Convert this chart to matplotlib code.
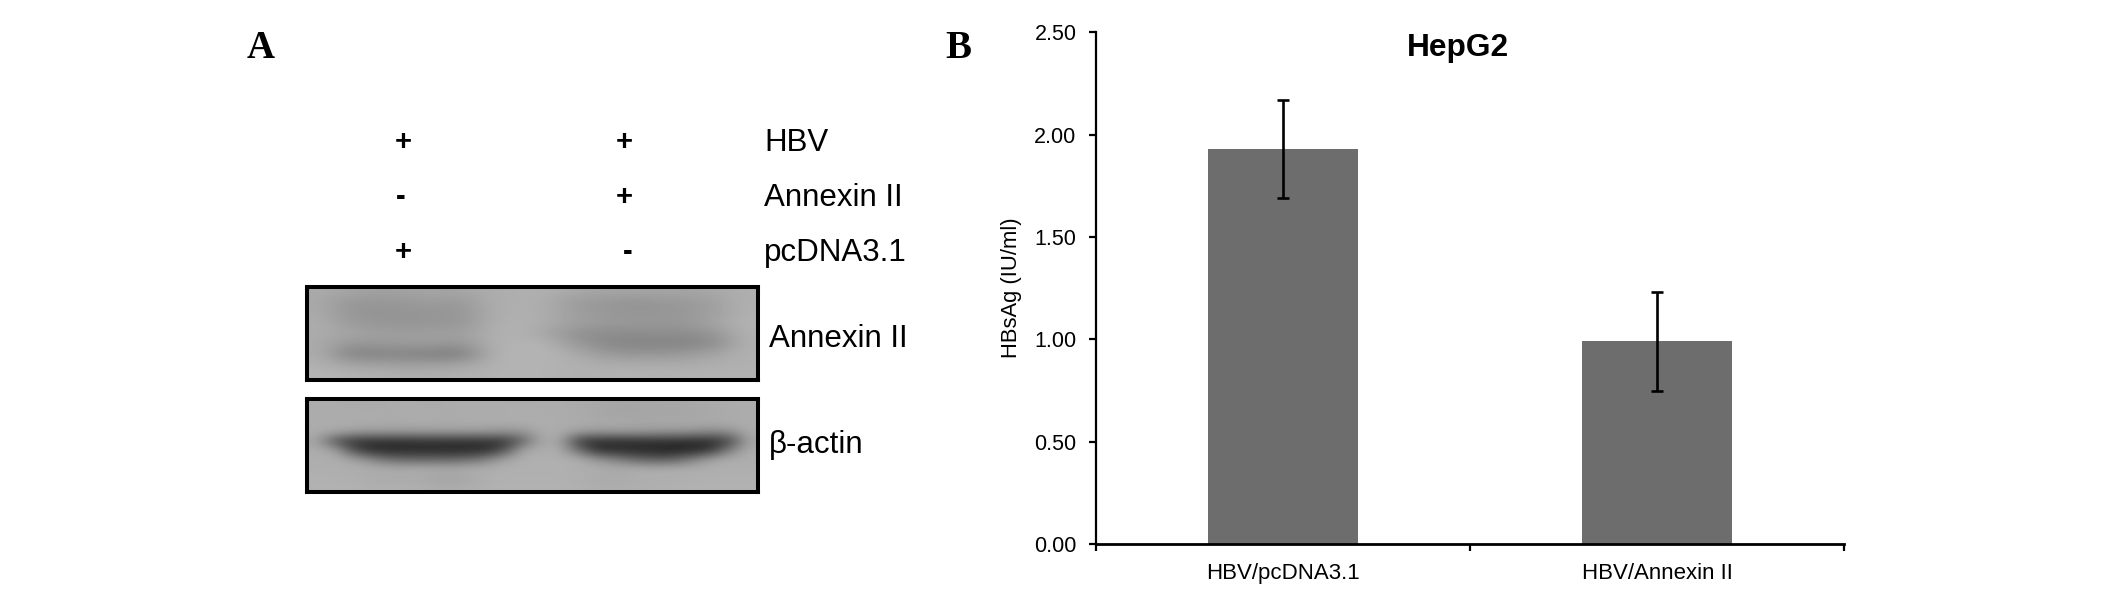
# -*- coding: utf-8 -*-
import numpy as np
import matplotlib
matplotlib.use('Agg')
import matplotlib.pyplot as plt

W = 2126
H = 599

# panel B data
groups = ['HBV/pcDNA3.1', 'HBV/Annexin II']
hbsag = [1.93, 0.99]
hbsag_err = [0.24, 0.24]
y_ticks = [0.0, 0.5, 1.0, 1.5, 2.0, 2.5]

# panel A table
row_names = ['HBV', 'Annexin II', 'pcDNA3.1']
lane1 = ['+', '-', '+']
lane2 = ['+', '+', '-']

# blot densities (grey level, 0-255)
annexin_blot = [
    [170, 165, 160, 162, 165, 165, 172, 175, 175, 168, 165, 165, 165, 165, 168, 175],
    [168, 150, 150, 152, 155, 152, 172, 175, 172, 155, 152, 145, 150, 152, 160, 175],
    [170, 150, 148, 148, 150, 150, 170, 176, 172, 158, 152, 150, 150, 152, 160, 176],
    [172, 155, 150, 148, 150, 150, 172, 178, 172, 160, 155, 152, 152, 152, 165, 178],
    [172, 165, 160, 158, 160, 160, 174, 178, 165, 145, 140, 140, 142, 140, 150, 176],
    [170, 150, 152, 155, 155, 150, 174, 180, 178, 155, 138, 132, 132, 132, 140, 176],
    [172, 130, 130, 132, 125, 125, 172, 182, 180, 172, 155, 150, 150, 155, 165, 176],
    [176, 165, 162, 158, 160, 165, 176, 180, 178, 176, 174, 172, 172, 172, 174, 176],
    [180, 178, 176, 176, 176, 176, 178, 180, 178, 176, 176, 178, 176, 178, 178, 178],
]
actin_blot = [
    [172, 172, 170, 170, 172, 172, 170, 172, 172, 172, 172, 172, 172, 172, 170, 168, 166, 166, 166, 168, 168, 170, 172, 172],
    [172, 172, 172, 172, 170, 172, 172, 170, 172, 172, 172, 174, 172, 172, 170, 166, 164, 164, 166, 164, 166, 168, 170, 172],
    [172, 172, 172, 172, 172, 172, 172, 172, 172, 172, 172, 174, 174, 172, 172, 170, 170, 168, 168, 170, 170, 170, 172, 172],
    [172, 168, 160, 155, 155, 155, 155, 155, 155, 155, 150, 150, 172, 172, 160, 155, 155, 155, 152, 150, 148, 140, 145, 172],
    [165, 85, 55, 50, 50, 50, 52, 52, 52, 52, 55, 100, 170, 165, 60, 48, 48, 50, 50, 48, 45, 45, 70, 165],
    [172, 165, 75, 45, 42, 42, 42, 40, 42, 45, 80, 170, 172, 172, 110, 48, 45, 42, 38, 35, 40, 55, 130, 172],
    [174, 174, 165, 135, 110, 105, 105, 105, 110, 130, 165, 174, 176, 176, 174, 150, 130, 105, 95, 100, 130, 165, 174, 174],
    [174, 174, 174, 174, 172, 172, 174, 170, 174, 174, 176, 176, 176, 176, 174, 174, 172, 174, 174, 174, 174, 174, 174, 174],
    [176, 176, 174, 170, 170, 170, 166, 162, 166, 174, 176, 176, 176, 176, 174, 170, 168, 172, 174, 174, 174, 176, 176, 176],
    [178, 178, 178, 176, 176, 176, 174, 172, 174, 176, 178, 178, 178, 178, 176, 174, 174, 174, 176, 176, 178, 178, 178, 178],
]

plt.rcParams['font.family'] = ['Liberation Sans', 'DejaVu Sans']

fig = plt.figure(figsize=(W / 100, H / 100), dpi=100)


def px_axes(x0, y0, x1, y1):
    # pixel box (y going down) to figure fractions
    return fig.add_axes([x0 / W, 1 - y1 / H, (x1 - x0) / W, (y1 - y0) / H])


def px_text(x, y, s, **kw):
    kw.setdefault('va', 'center')
    fig.text(x / W, 1 - y / H, s, **kw)


# panel letters
px_text(247, 49, 'A', family='Liberation Serif', fontweight='bold', fontsize=28)
px_text(945, 49, 'B', family='Liberation Serif', fontweight='bold', fontsize=28)

# +/- table
row_y = [142, 197, 252]
for i in range(3):
    px_text(403 if lane1[i] == '+' else 401, row_y[i], lane1[i], fontsize=21, ha='center', fontweight='bold')
    px_text(624 if lane2[i] == '+' else 628, row_y[i], lane2[i], fontsize=21, ha='center', fontweight='bold')
    px_text(764, row_y[i] + 1, row_names[i], fontsize=22.5)

# blots
blots = [(annexin_blot, 287, 380, 'Annexin II', 339),
         (actin_blot, 399, 492, 'β-actin', 445)]
for blot, top, bottom, name, label_y in blots:
    a = px_axes(306.5, top, 757.5, bottom)
    a.imshow(np.array(blot), cmap='gray', vmin=0, vmax=255, aspect='auto', interpolation='bicubic')
    a.set_xticks([])
    a.set_yticks([])
    for s in a.spines.values():
        s.set_linewidth(2.9)
        s.set_color('black')
    px_text(769, label_y, name, fontsize=22.5)

# bar chart
ax = px_axes(1096, 32.5, 1844, 544)
x_pos = np.arange(len(groups)) + 0.5
ax.bar(x_pos, hbsag, width=0.4, color='#6d6d6d')
ax.errorbar(x_pos, hbsag, yerr=hbsag_err, fmt='none', ecolor='black',
            elinewidth=1.9, capsize=4.3, capthick=1.9)

ax.set_xlim(0, 2)
ax.set_ylim(0, 2.5)
ax.set_yticks(y_ticks)
ax.set_yticklabels(['{:.2f}'.format(t) for t in y_ticks], fontsize=15.5)
ax.set_xticks([0, 1, 2])
ax.set_xticklabels([])
ax.set_xticks(x_pos, minor=True)
ax.set_xticklabels(groups, minor=True, fontsize=16)
ax.tick_params(axis='x', which='minor', length=0, pad=14)
ax.tick_params(axis='both', which='major', length=5, width=1.6, pad=9)
ax.spines['top'].set_visible(False)
ax.spines['right'].set_visible(False)
ax.spines['left'].set_linewidth(1.6)
ax.spines['bottom'].set_linewidth(2.0)

px_text(1011, 288, 'HBsAg (IU/ml)', fontsize=15.8, rotation=90, ha='center')
px_text(1458, 48, 'HepG2', fontsize=22.8, fontweight='bold', ha='center')

fig.savefig('out.png', dpi=100)
